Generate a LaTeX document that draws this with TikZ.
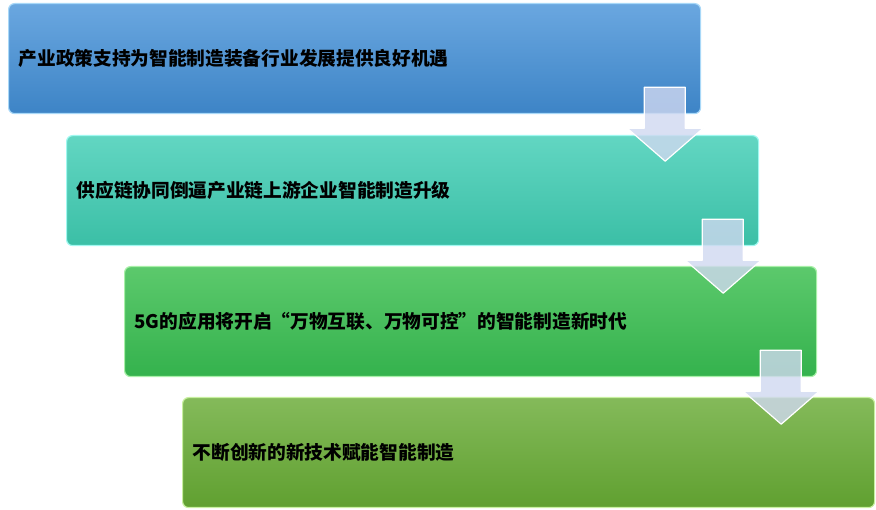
\documentclass[tikz,border=0pt]{standalone}
\usepackage{fontspec}
\setmainfont{Noto Sans CJK SC}
\definecolor{bAt}{HTML}{6AA7E0}\definecolor{bAb}{HTML}{3D84C6}\definecolor{bAe}{HTML}{A8D8F8}
\definecolor{bBt}{HTML}{62D6C2}\definecolor{bBb}{HTML}{3BBFA6}\definecolor{bBe}{HTML}{A0F8F0}
\definecolor{bCt}{HTML}{5CC96C}\definecolor{bCb}{HTML}{34B24D}\definecolor{bCe}{HTML}{A8F0A8}
\definecolor{bDt}{HTML}{84BA5A}\definecolor{bDb}{HTML}{60A030}\definecolor{bDe}{HTML}{C8F0A0}
\definecolor{arrfill}{HTML}{D0D8F0}
\tikzset{
  stagebox/.style n args={3}{draw=#3, line width=1.2pt, rounded corners=6pt,
    top color=#1, bottom color=#2, minimum width=692pt, minimum height=110pt,
    anchor=north west, text width=672pt, align=left, inner xsep=10pt,
    font=\fontsize{18.7pt}{22pt}\selectfont\bfseries, text=black},
  downarrow/.pic={
    \draw[draw=white, line width=1.2pt, fill=arrfill, fill opacity=0.8, line join=round]
      (-57,-27) -- (-16,-27) -- (-16,14) -- (2,14) -- (-36,47) -- (-74,14) -- (-57,14) -- cycle;
  }
}
\begin{document}
\begin{tikzpicture}[x=1pt,y=-1pt]
\useasboundingbox (0,0) rectangle (876,510);
\node[stagebox={bAt}{bAb}{bAe}] (b1) at (8,3) {产业政策支持为智能制造装备行业发展提供良好机遇};
\node[stagebox={bBt}{bBb}{bBe}] (b2) at (66,135) {供应链协同倒逼产业链上游企业智能制造升级};
\node[stagebox={bCt}{bCb}{bCe}] (b3) at (124,266) {5G的应用将开启“万物互联、万物可控”的智能制造新时代};
\node[stagebox={bDt}{bDb}{bDe}] (b4) at (182,397) {不断创新的新技术赋能智能制造};
\pic at (b1.south east) {downarrow};
\pic at (b2.south east) {downarrow};
\pic at (b3.south east) {downarrow};
\end{tikzpicture}
\end{document}
